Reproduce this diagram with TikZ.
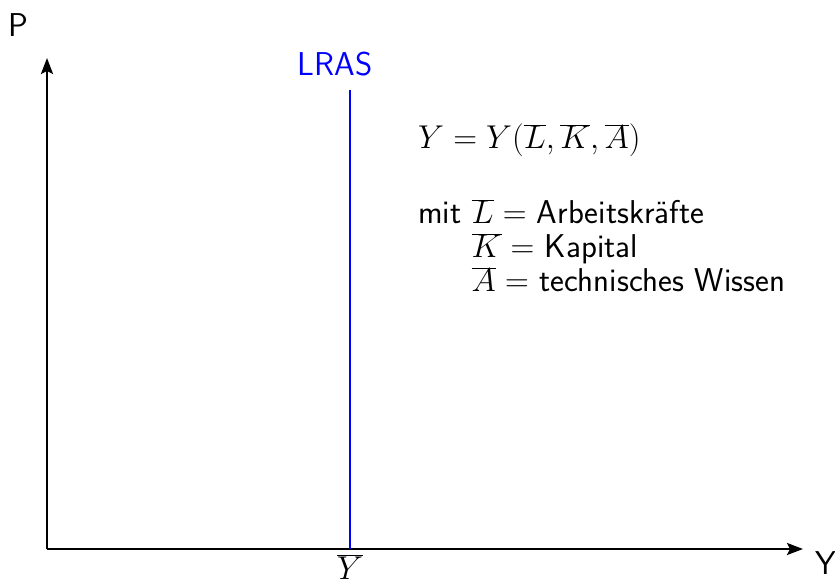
\RequirePackage{fix-cm}
\documentclass[tikz,border=0pt]{standalone}
\usetikzlibrary{arrows.meta}
\begin{document}
\begin{tikzpicture}[x=1pt,y=1pt,
  axis/.style={line width=2.4pt,-{Stealth[length=16pt,width=12pt,inset=3pt]}},
  lras/.style={line width=2pt,blue},
  lbl/.style={font=\fontsize{33}{36}\selectfont\sffamily,inner sep=0pt},
  txt/.style={font=\fontsize{33}{36}\selectfont\sffamily,inner sep=0pt,anchor=base west}]
\useasboundingbox (0,0) rectangle (835,583);
\coordinate (O) at (47,34);
\coordinate (ytip) at (47,525);
\coordinate (xtip) at (803,34);
\coordinate (lb) at (350,34);
\coordinate (lt) at (350,493);
\draw[axis] (O) -- (ytip);
\draw[axis] (O) -- (xtip);
\draw[lras] (lb) -- (lt);
\node[lbl] (P) at (18,558) {P};
\node[lbl,anchor=west] (Ylab) at (815,20) {Y};
\node[lbl,blue] (LRAS) at (335,519) {LRAS};
\node[lbl] (Ybar) at (350,16) {$\overline{Y}$};
\node[txt] (eq) at (418,434) {$Y = Y(\overline{L},\overline{K},\overline{A})$};
\node[txt] (mit) at (418,359) {mit $\overline{L}=$ Arbeitskräfte};
\node[txt] (kap) at (418,325) {\phantom{mit }$\overline{K}=$ Kapital};
\node[txt] (tec) at (418,291) {\phantom{mit }$\overline{A}=$ technisches Wissen};
\end{tikzpicture}
\end{document}
